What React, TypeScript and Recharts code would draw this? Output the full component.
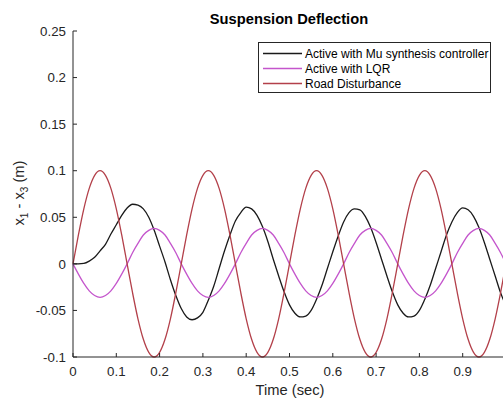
import { LineChart, Line, XAxis, YAxis, Label } from "recharts";

// time axis (sec)
const times = [
  0, 0.0125, 0.025, 0.0375, 0.05, 0.0625, 0.075, 0.0875, 0.1, 0.1125,
  0.125, 0.1375, 0.15, 0.1625, 0.175, 0.1875, 0.2, 0.2125, 0.225, 0.2375,
  0.25, 0.2625, 0.275, 0.2875, 0.3, 0.3125, 0.325, 0.3375, 0.35, 0.3625,
  0.375, 0.3875, 0.4, 0.4125, 0.425, 0.4375, 0.45, 0.4625, 0.475, 0.4875,
  0.5, 0.5125, 0.525, 0.5375, 0.55, 0.5625, 0.575, 0.5875, 0.6, 0.6125,
  0.625, 0.6375, 0.65, 0.6625, 0.675, 0.6875, 0.7, 0.7125, 0.725, 0.7375,
  0.75, 0.7625, 0.775, 0.7875, 0.8, 0.8125, 0.825, 0.8375, 0.85, 0.8625,
  0.875, 0.8875, 0.9, 0.9125, 0.925, 0.9375, 0.95, 0.9625, 0.975, 0.9875,
  1,
];

const muSynthesis = [
  0, 0, 0.0005, 0.003, 0.007, 0.014, 0.021, 0.032, 0.042, 0.052,
  0.06, 0.064, 0.063, 0.059, 0.05, 0.036, 0.019, 0.002, -0.017, -0.034,
  -0.048, -0.057, -0.06, -0.058, -0.052, -0.039, -0.024, -0.005, 0.014, 0.031,
  0.046, 0.055, 0.061, 0.059, 0.052, 0.04, 0.024, 0.005, -0.013, -0.03,
  -0.044, -0.053, -0.057, -0.056, -0.05, -0.038, -0.023, -0.005, 0.013, 0.03,
  0.045, 0.055, 0.059, 0.058, 0.051, 0.039, 0.023, 0.005, -0.013, -0.03,
  -0.044, -0.053, -0.057, -0.056, -0.05, -0.038, -0.023, -0.005, 0.013, 0.031,
  0.045, 0.055, 0.06, 0.058, 0.051, 0.039, 0.023, 0.005, -0.013, -0.031,
  -0.045,
];

const lqr = [
  0, -0.011, -0.021, -0.029, -0.034, -0.036, -0.034, -0.029, -0.021, -0.011,
  0, 0.012, 0.022, 0.031, 0.036, 0.038, 0.036, 0.031, 0.022, 0.012,
  0, -0.011, -0.021, -0.029, -0.034, -0.036, -0.034, -0.029, -0.021, -0.011,
  0, 0.012, 0.022, 0.031, 0.036, 0.038, 0.036, 0.031, 0.022, 0.012,
  0, -0.011, -0.021, -0.029, -0.034, -0.036, -0.034, -0.029, -0.021, -0.011,
  0, 0.012, 0.022, 0.031, 0.036, 0.038, 0.036, 0.031, 0.022, 0.012,
  0, -0.011, -0.021, -0.029, -0.034, -0.036, -0.034, -0.029, -0.021, -0.011,
  0, 0.012, 0.022, 0.031, 0.036, 0.038, 0.036, 0.031, 0.022, 0.012,
  0,
];

const road = [
  0, 0.031, 0.059, 0.081, 0.095, 0.1, 0.095, 0.081, 0.059, 0.031,
  0, -0.031, -0.059, -0.081, -0.095, -0.1, -0.095, -0.081, -0.059, -0.031,
  0, 0.031, 0.059, 0.081, 0.095, 0.1, 0.095, 0.081, 0.059, 0.031,
  0, -0.031, -0.059, -0.081, -0.095, -0.1, -0.095, -0.081, -0.059, -0.031,
  0, 0.031, 0.059, 0.081, 0.095, 0.1, 0.095, 0.081, 0.059, 0.031,
  0, -0.031, -0.059, -0.081, -0.095, -0.1, -0.095, -0.081, -0.059, -0.031,
  0, 0.031, 0.059, 0.081, 0.095, 0.1, 0.095, 0.081, 0.059, 0.031,
  0, -0.031, -0.059, -0.081, -0.095, -0.1, -0.095, -0.081, -0.059, -0.031,
  0,
];

const xTicks = [0, 0.1, 0.2, 0.3, 0.4, 0.5, 0.6, 0.7, 0.8, 0.9];
const yTicks = [-0.1, -0.05, 0, 0.05, 0.1, 0.15, 0.2, 0.25];

const seriesNames = [
  "Active with Mu synthesis controller",
  "Active with LQR",
  "Road Disturbance",
];
const colors = ["#1a1a1a", "#c455cc", "#b3404a"];

const data = times.map((t, i) => ({
  t,
  mu: muSynthesis[i],
  lqr: lqr[i],
  road: road[i],
}));

const font = "'Liberation Sans', Arial, sans-serif";
const axisColor = "#262626";

const App = () => {
  return (
    <div
      style={{
        position: "absolute",
        left: 0,
        top: 0,
        width: 503,
        height: 402,
        overflow: "hidden",
        background: "#fff",
        fontFamily: font,
      }}
    >
      <LineChart
        width={520}
        height={402}
        data={data}
        margin={{ top: 31, right: 14, bottom: 0, left: 0 }}
      >
        <XAxis
          dataKey="t"
          type="number"
          domain={[0, 1]}
          ticks={xTicks}
          height={45}
          stroke={axisColor}
          tickSize={-4}
          tickMargin={14}
          tick={{ fill: axisColor, fontSize: 13.3, fontFamily: font }}
        >
          <Label
            content={() => (
              <text
                x={290}
                y={395}
                textAnchor="middle"
                fontSize={14.7}
                fontFamily={font}
                fill={axisColor}
              >
                Time (sec)
              </text>
            )}
          />
        </XAxis>
        <XAxis
          xAxisId="top"
          orientation="top"
          dataKey="t"
          type="number"
          domain={[0, 1]}
          ticks={xTicks}
          height={0}
          stroke={axisColor}
          tickSize={-4}
          tickFormatter={() => ""}
        />
        <YAxis
          type="number"
          domain={[-0.1, 0.25]}
          ticks={yTicks}
          width={73}
          stroke={axisColor}
          tickSize={-4}
          tickMargin={11}
          tick={{ fill: axisColor, fontSize: 13.3, fontFamily: font }}
        >
          <Label
            content={() => (
              <text
                transform="translate(23.5,193) rotate(-90)"
                textAnchor="middle"
                fontSize={14.7}
                fontFamily={font}
                fill={axisColor}
              >
                x<tspan fontSize={10} dy={4}>1</tspan>
                <tspan dy={-4}> - x</tspan>
                <tspan fontSize={10} dy={4}>3</tspan>
                <tspan dy={-4}> (m)</tspan>
              </text>
            )}
          />
        </YAxis>
        <Line
          type="monotone"
          dataKey="mu"
          stroke={colors[0]}
          strokeWidth={1.3}
          dot={false}
          isAnimationActive={false}
        />
        <Line
          type="monotone"
          dataKey="lqr"
          stroke={colors[1]}
          strokeWidth={1.3}
          dot={false}
          isAnimationActive={false}
        />
        <Line
          type="monotone"
          dataKey="road"
          stroke={colors[2]}
          strokeWidth={1.3}
          dot={false}
          isAnimationActive={false}
        />
      </LineChart>
      <svg
        width={503}
        height={402}
        style={{ position: "absolute", left: 0, top: 0, pointerEvents: "none" }}
      >
        <text
          x={289}
          y={24}
          textAnchor="middle"
          fontSize={14.7}
          fontWeight="bold"
          fontFamily={font}
          fill="#000"
        >
          Suspension Deflection
        </text>
        <rect
          x={258.5}
          y={42.5}
          width={232}
          height={50}
          fill="#fff"
          stroke={axisColor}
          strokeWidth={1}
        />
        {seriesNames.map((name, i) => (
          <g key={name}>
            <line
              x1={263}
              x2={302}
              y1={53.5 + i * 15}
              y2={53.5 + i * 15}
              stroke={colors[i]}
              strokeWidth={1.3}
            />
            <text
              x={305}
              y={57.8 + i * 15}
              fontSize={12}
              fontFamily={font}
              fill="#000"
            >
              {name}
            </text>
          </g>
        ))}
      </svg>
    </div>
  );
};

export default App;
